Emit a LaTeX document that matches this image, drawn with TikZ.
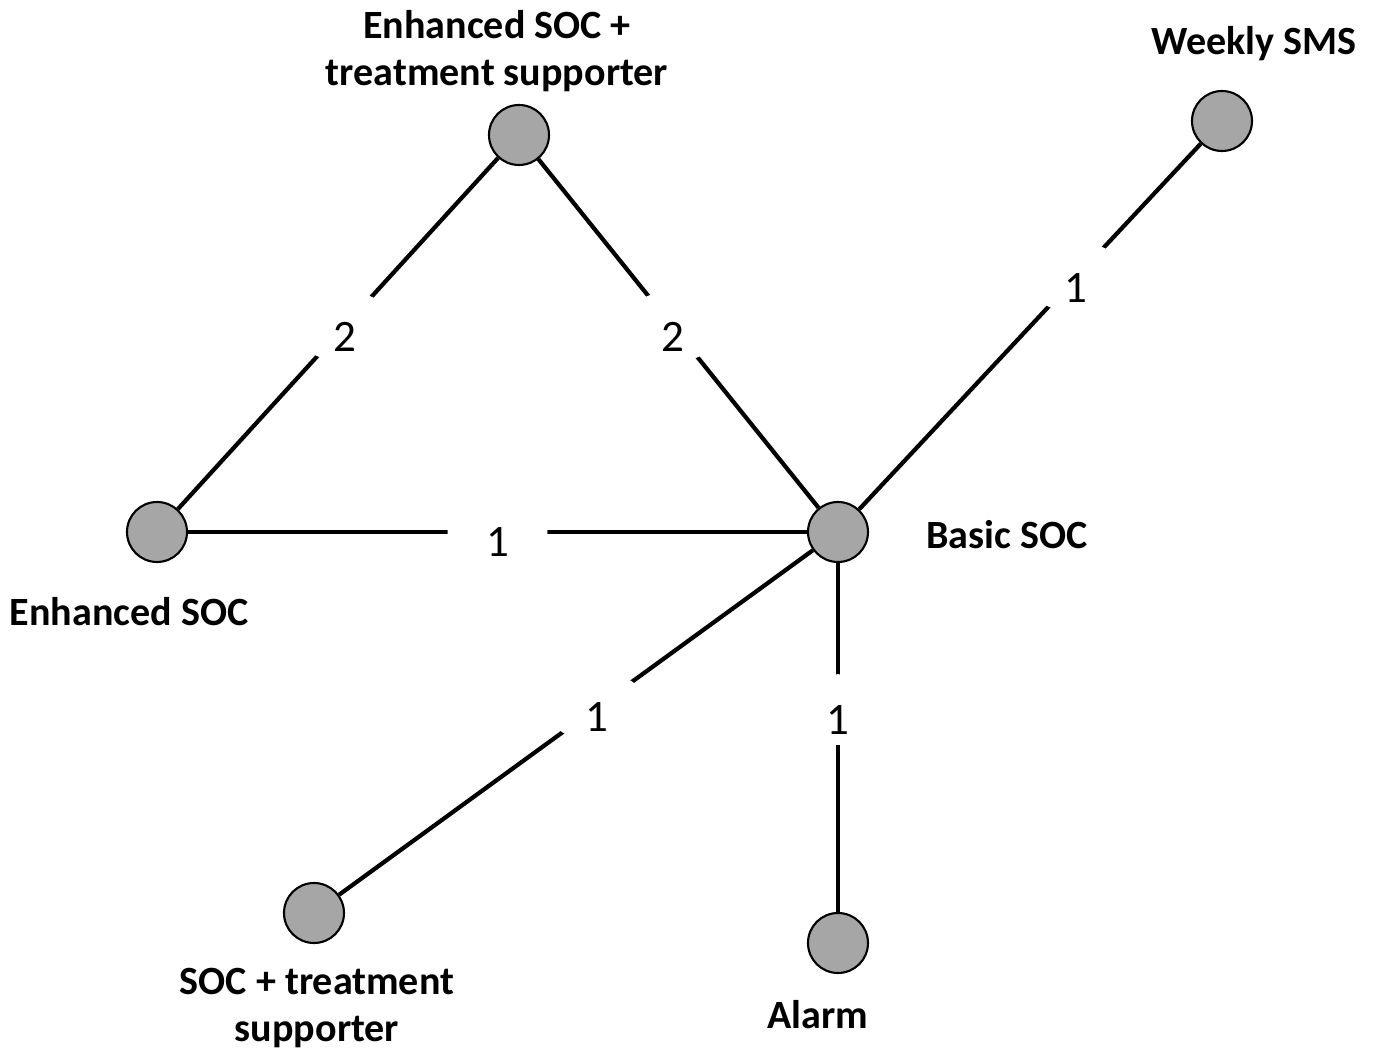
\documentclass[tikz,border=0pt]{standalone}
\usepackage{fontspec}
\setmainfont{Carlito}
\usepackage{tikz}
\usetikzlibrary{shapes,positioning}
\usepackage{xcolor}
\definecolor{nodegray}{RGB}{166,166,166}
\tikzstyle{trt} = [circle, minimum size=0.6cm, inner sep=0pt, draw=black, line width=0.6pt, fill=nodegray]
\tikzstyle{link} = [line width=1.2pt, color=black]
\tikzstyle{trtname} = [align=center, font=\fontsize{11.4}{13.6}\selectfont\bfseries]
\tikzstyle{count} = [ellipse, fill=white, inner sep=0pt, minimum width=1cm, minimum height=0.7cm, text height=0.5cm, text depth=0cm, font=\fontsize{12.8}{15}\selectfont]

\begin{document}
\begin{tikzpicture}
\useasboundingbox (0,0) rectangle (13.76,10.53);
% Treatments
\node[trt] (enhts) at (5.19, 9.18) {};
\node[trt] (sms) at (12.22, 9.32) {};
\node[trt] (enh) at (1.57, 5.21) {};
\node[trt] (basic) at (8.38, 5.21) {};
\node[trt] (socts) at (3.14, 1.40) {};
\node[trt] (alarm) at (8.38, 1.10) {};

% Names
\node[trtname] (enhtsname) at (4.97, 10.02) {Enhanced SOC +\\treatment supporter};
\node[trtname] (smsname) at (12.54, 10.09) {Weekly SMS};
\node[trtname] (enhname) at (1.29, 4.41) {Enhanced SOC};
\node[trtname] (basicname) at (10.07, 5.18) {Basic SOC};
\node[trtname] (soctsname) at (3.17, 0.45) {SOC + treatment\\supporter};
\node[trtname] (alarmname) at (8.18, 0.38) {Alarm};

% Comparisons
\draw[link] (enh) -- node[count, pos=0.52] {2} (enhts);
\draw[link] (enhts) -- node[count, pos=0.48] {2} (basic);
\draw[link] (basic) -- node[count, pos=0.635] {1} (sms);
\draw[link] (enh) -- node[count, pos=0.5] {1} (basic);
\draw[link] (basic) -- node[count, pos=0.455] {1} (socts);
\draw[link] (basic) -- node[count, pos=0.42] {1} (alarm);
\end{tikzpicture}
\end{document}
